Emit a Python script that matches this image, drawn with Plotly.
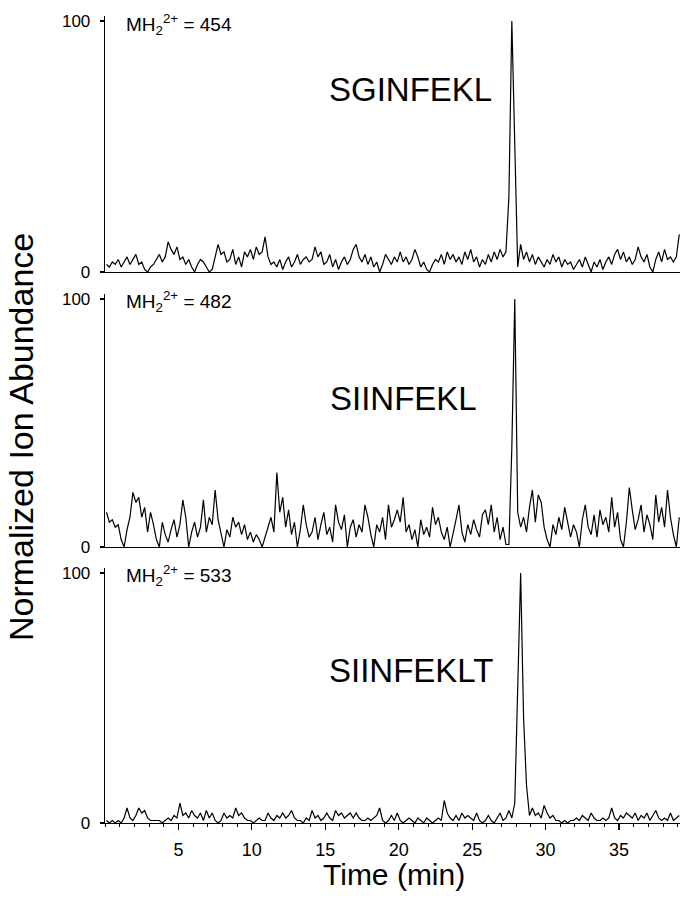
import plotly.graph_objects as go

# ---- data -------------------------------------------------------------
time_min = [round(0.1 + 0.2 * k, 1) for k in range(196)]

sginfekl = [
    3, 2, 4, 3, 5, 2, 4, 6, 3, 5,
    7, 3, 4, 1, 0, 2, 3, 5, 7, 4,
    6, 12, 9, 7, 10, 5, 6, 3, 5, 2,
    0, 3, 5, 4, 2, 0, 1, 6, 11, 7,
    8, 4, 5, 9, 3, 6, 2, 8, 6, 9,
    5, 10, 7, 8, 14, 6, 3, 4, 2, 5,
    1, 4, 6, 2, 4, 7, 3, 5, 6, 4,
    5, 10, 6, 8, 3, 4, 7, 2, 5, 1,
    4, 6, 3, 5, 9, 11, 6, 4, 7, 3,
    6, 2, 4, 0, 3, 7, 5, 3, 6, 4,
    8, 4, 6, 3, 5, 9, 6, 2, 4, 1,
    0, 3, 5, 4, 7, 3, 8, 5, 7, 4,
    6, 3, 8, 5, 9, 4, 6, 2, 5, 3,
    7, 4, 8, 5, 9, 6, 8, 30, 100, 45,
    2, 11, 5, 8, 4, 7, 3, 6, 4, 2,
    5, 3, 7, 4, 6, 2, 5, 3, 4, 1,
    3, 5, 2, 6, 3, 0, 4, 2, 5, 1,
    4, 6, 3, 7, 9, 5, 8, 4, 6, 3,
    5, 10, 6, 4, 7, 2, 0, 5, 8, 4,
    9, 5, 6, 4, 6, 15,
]

siinfekl = [
    14, 10, 11, 8, 9, 3, 0, 7, 12, 22,
    18, 20, 12, 16, 6, 14, 9, 3, 0, 10,
    5, 2, 7, 11, 4, 9, 19, 12, 0, 6,
    10, 4, 8, 19, 6, 12, 9, 23, 11, 5,
    0, 7, 4, 12, 8, 10, 5, 9, 3, 6,
    2, 5, 3, 0, 4, 8, 12, 6, 30, 14,
    20, 8, 15, 5, 10, 0, 7, 17, 9, 4,
    6, 12, 3, 9, 14, 5, 8, 2, 17, 10,
    7, 13, 0, 8, 11, 4, 9, 6, 17, 12,
    5, 0, 9, 6, 12, 3, 17, 8, 11, 15,
    10, 20, 6, 9, 3, 7, 0, 11, 5, 8,
    4, 16, 9, 12, 6, 3, 8, 0, 5, 11,
    17, 6, 2, 9, 5, 11, 7, 4, 13, 15,
    9, 17, 6, 12, 3, 8, 1, 1, 40, 100,
    14, 8, 12, 6, 16, 23, 10, 21, 18, 8,
    3, 0, 9, 5, 12, 7, 16, 10, 4, 9,
    6, 0, 11, 17, 8, 5, 13, 4, 15, 9,
    12, 6, 20, 8, 14, 3, 0, 10, 24, 15,
    7, 11, 17, 6, 13, 9, 3, 21, 10, 16,
    8, 23, 12, 5, 0, 12,
]

siinfeklt = [
    1, 0, 1, 0, 1, 0, 2, 6, 2, 1,
    3, 6, 4, 5, 2, 1, 1, 1, 1, 0,
    1, 2, 1, 3, 2, 8, 3, 4, 2, 5,
    3, 2, 4, 1, 5, 2, 4, 1, 0, 1,
    4, 2, 3, 2, 6, 3, 4, 2, 1, 1,
    0, 1, 2, 1, 1, 4, 2, 1, 3, 2,
    4, 2, 3, 5, 2, 1, 1, 0, 2, 1,
    5, 2, 3, 1, 2, 4, 2, 1, 5, 3,
    4, 2, 3, 4, 2, 4, 2, 1, 1, 2,
    1, 2, 3, 6, 1, 0, 1, 3, 1, 4,
    1, 0, 1, 2, 1, 0, 2, 1, 0, 2,
    1, 0, 1, 2, 1, 9, 4, 2, 1, 3,
    1, 4, 2, 3, 2, 1, 4, 1, 0, 1,
    3, 1, 0, 2, 4, 1, 2, 5, 2, 8,
    55, 100, 42, 15, 3, 6, 3, 4, 2, 7,
    4, 2, 3, 1, 1, 0, 1, 0, 1, 1,
    2, 1, 3, 2, 1, 4, 2, 1, 1, 2,
    1, 2, 6, 2, 1, 3, 2, 4, 3, 2,
    4, 1, 3, 2, 4, 1, 3, 5, 2, 1,
    2, 1, 4, 1, 2, 3,
]

peptides = ["SGINFEKL", "SIINFEKL", "SIINFEKLT"]
mh_values = ["454", "482", "533"]
x_ticks = [5, 10, 15, 20, 25, 30, 35]
y_ticks = [0, 100]

series = [sginfekl, siinfekl, siinfeklt]
for s in series:
    assert len(s) == len(time_min), len(s)

# ---- layout geometry --------------------------------------------------
FONT = "Liberation Sans, Arial, Helvetica, sans-serif"
W, H = 680, 916
ML, MR, MT, MB = 105, 0, 16, 93
domains = [[0.6828, 1.0], [0.3420, 0.6555], [0.0, 0.3160]]
pep_pos = [(0.532, 0.9095), (0.519, 0.5266), (0.533, 0.1884)]
mh_pos = [0.990, 0.6462, 0.3073]

fig = go.Figure()
for i, vals in enumerate(series):
    sfx = "" if i == 0 else str(i + 1)
    fig.add_trace(go.Scatter(
        x=time_min, y=vals, mode="lines",
        line=dict(color="black", width=1.2),
        xaxis="x" + sfx, yaxis="y" + sfx, showlegend=False,
        hoverinfo="skip"))

layout = dict(
    width=W, height=H,
    margin=dict(l=ML, r=MR, t=MT, b=MB),
    paper_bgcolor="white", plot_bgcolor="white",
    font=dict(family=FONT, color="black"),
    showlegend=False,
)

for i in range(3):
    sfx = "" if i == 0 else str(i + 1)
    bottom = (i == 2)
    xa = dict(
        domain=[0, 1], range=[0, 39.15], anchor="y" + sfx,
        showline=True, linecolor="black", linewidth=1.3,
        showgrid=False, zeroline=False, mirror=False,
        fixedrange=True,
    )
    if bottom:
        xa.update(
            tickmode="array", tickvals=x_ticks,
            ticktext=[str(v) for v in x_ticks],
            ticks="outside", ticklen=6, tickwidth=1.2, tickcolor="black",
            tickfont=dict(size=18, family=FONT, color="black"),
            ticklabelstandoff=4,
            minor=dict(dtick=1, tick0=0, ticks="outside", ticklen=3,
                       tickwidth=1, tickcolor="black", showgrid=False),
        )
    else:
        xa.update(showticklabels=False, ticks="")
    if i > 0:
        xa["matches"] = "x"
    ya = dict(
        domain=domains[i], range=[0, 102], anchor="x" + sfx,
        showline=True, linecolor="black", linewidth=1.3,
        showgrid=False, zeroline=False,
        tickmode="array", tickvals=y_ticks,
        ticktext=[str(v) for v in y_ticks],
        ticks="outside", ticklen=4, tickwidth=1.2, tickcolor="black",
        tickfont=dict(size=17, family=FONT, color="black"),
        ticklabelstandoff=6,
        fixedrange=True,
    )
    layout["xaxis" + sfx] = xa
    layout["yaxis" + sfx] = ya

annotations = []
for i in range(3):
    annotations.append(dict(
        xref="paper", yref="paper", x=0.033, y=mh_pos[i],
        xanchor="left", yanchor="middle", showarrow=False,
        text="MH<sub>2</sub><sup>2+</sup> = " + mh_values[i],
        font=dict(size=19, family=FONT, color="black")))
    px, py = pep_pos[i]
    annotations.append(dict(
        xref="paper", yref="paper", x=px, y=py,
        xanchor="center", yanchor="middle", showarrow=False,
        text=peptides[i],
        font=dict(size=33, family=FONT, color="black")))

annotations.append(dict(
    xref="paper", yref="paper", x=(21 - ML) / 575, y=0.4783,
    xanchor="center", yanchor="middle", showarrow=False, textangle=-90,
    text="Normalized Ion Abundance",
    font=dict(size=34, family=FONT, color="black")))
annotations.append(dict(
    xref="paper", yref="paper", x=(394 - ML) / 575, y=1 - (875 - MT) / 807,
    xanchor="center", yanchor="middle", showarrow=False,
    text="Time (min)",
    font=dict(size=30, family=FONT, color="black")))

layout["annotations"] = annotations
fig.update_layout(**layout)
fig.write_html(
    "out.html",
    config={"displayModeBar": False, "staticPlot": True},
    post_script="document.body.style.margin='0';document.body.style.padding='0';",
)
